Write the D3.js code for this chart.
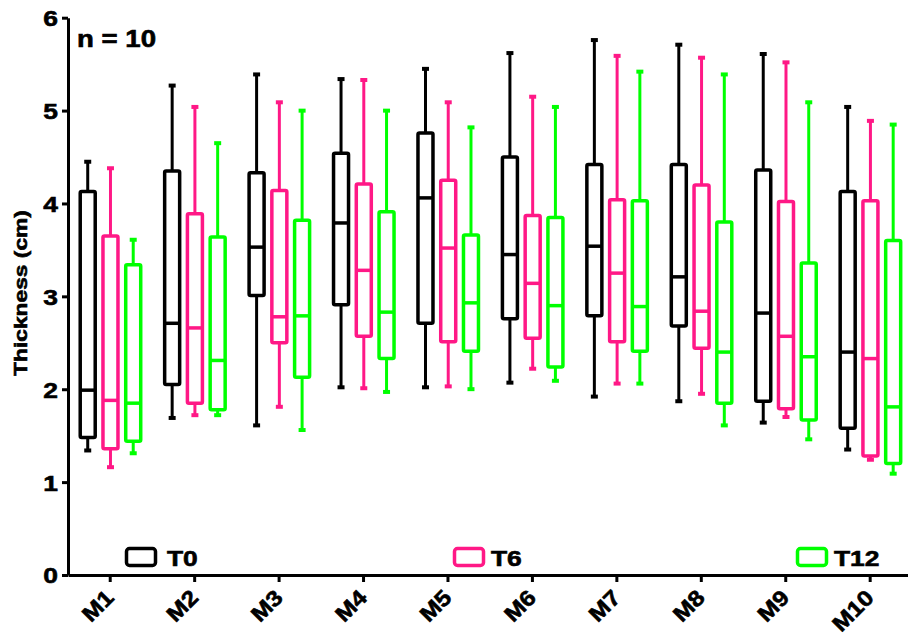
<!DOCTYPE html>
<html lang="en">
<head>
<meta charset="utf-8">
<title>Thickness box plot</title>
<script src="https://cdnjs.cloudflare.com/ajax/libs/d3/7.8.5/d3.min.js"></script>
<style>
  body { margin: 0; background: #fff; }
  svg text { font-family: "Liberation Sans", Arial, sans-serif; font-weight: bold; fill: #000;
             stroke: #000; stroke-width: 0.6px; }
</style>
</head>
<body>
<svg id="chart" width="908" height="637"></svg>
<script>
// muscles on the x axis
const categories = ["M1", "M2", "M3", "M4", "M5", "M6", "M7", "M8", "M9", "M10"];
const series = ["T0", "T6", "T12"];
const colors = ["#000000", "#ff1886", "#00ff00"];
const yTicks = [0, 1, 2, 3, 4, 5, 6];

// each entry: [min, q1, median, q3, max]
const t0 = [
  [1.33, 1.48, 1.99, 4.13, 4.46],
  [1.68, 2.05, 2.71, 4.35, 5.28],
  [1.60, 3.01, 3.53, 4.33, 5.40],
  [2.01, 2.91, 3.79, 4.54, 5.35],
  [2.01, 2.71, 4.06, 4.76, 5.46],
  [2.06, 2.76, 3.45, 4.50, 5.63],
  [1.91, 2.79, 3.54, 4.42, 5.77],
  [1.86, 2.68, 3.21, 4.42, 5.72],
  [1.63, 1.87, 2.82, 4.36, 5.62],
  [1.34, 1.58, 2.40, 4.13, 5.05]
];
const t6 = [
  [1.15, 1.36, 1.88, 3.65, 4.39],
  [1.71, 1.85, 2.66, 3.89, 5.05],
  [1.80, 2.50, 2.78, 4.14, 5.10],
  [2.00, 2.57, 3.28, 4.21, 5.34],
  [2.02, 2.51, 3.52, 4.25, 5.10],
  [2.21, 2.55, 3.14, 3.87, 5.16],
  [2.05, 2.51, 3.25, 4.04, 5.60],
  [1.94, 2.44, 2.84, 4.20, 5.58],
  [1.69, 1.79, 2.57, 4.02, 5.53],
  [1.23, 1.28, 2.33, 4.03, 4.90]
];
const t12 = [
  [1.30, 1.44, 1.85, 3.34, 3.62],
  [1.71, 1.78, 2.31, 3.64, 4.66],
  [1.55, 2.13, 2.79, 3.82, 5.01],
  [1.96, 2.33, 2.83, 3.91, 5.01],
  [1.99, 2.41, 2.93, 3.66, 4.83],
  [2.08, 2.24, 2.90, 3.85, 5.05],
  [2.05, 2.41, 2.89, 4.03, 5.43],
  [1.60, 1.85, 2.40, 3.80, 5.40],
  [1.45, 1.67, 2.35, 3.36, 5.10],
  [1.08, 1.20, 1.81, 3.60, 4.86]
];
const seriesData = [t0, t6, t12];

const svg = d3.select("#chart");
const wide = "scale(1.2,1)"; // the original font is a wide bold face

const x = d3.scaleBand().domain(categories).range([68, 912.4]);
const xs = d3.scalePoint().domain(series).range([-22.5, 23]);
const y = d3.scaleLinear().domain([0, 6]).range([575, 17.7]);
const boxW = 15;

// flatten into one row per box
const boxes = [];
series.forEach((s, si) => {
  seriesData[si].forEach((v, ci) => {
    boxes.push({ cat: categories[ci], s: s, color: colors[si],
      min: v[0], q1: v[1], med: v[2], q3: v[3], max: v[4] });
  });
});

const g = svg.append("g").selectAll("g")
  .data(boxes)
  .enter().append("g")
  .attr("transform", d => `translate(${x(d.cat) + x.bandwidth() / 2 + xs(d.s)},0)`);

// whiskers
g.append("line")
  .attr("x1", 0).attr("x2", 0)
  .attr("y1", d => y(d.q3)).attr("y2", d => y(d.max))
  .attr("stroke", d => d.color).attr("stroke-width", 3);
g.append("line")
  .attr("x1", 0).attr("x2", 0)
  .attr("y1", d => y(d.q1)).attr("y2", d => y(d.min))
  .attr("stroke", d => d.color).attr("stroke-width", 3);
// caps
g.append("line")
  .attr("x1", -3.5).attr("x2", 3.5)
  .attr("y1", d => y(d.max) + 1).attr("y2", d => y(d.max) + 1)
  .attr("stroke", d => d.color).attr("stroke-width", 4);
g.append("line")
  .attr("x1", -3.5).attr("x2", 3.5)
  .attr("y1", d => y(d.min) - 1).attr("y2", d => y(d.min) - 1)
  .attr("stroke", d => d.color).attr("stroke-width", 4);
// box
g.append("rect")
  .attr("x", -boxW / 2).attr("width", boxW)
  .attr("y", d => y(d.q3)).attr("height", d => y(d.q1) - y(d.q3))
  .attr("rx", 1.5)
  .attr("fill", "#fff")
  .attr("stroke", d => d.color).attr("stroke-width", 3.5);
// median
g.append("line")
  .attr("x1", -boxW / 2).attr("x2", boxW / 2)
  .attr("y1", d => y(d.med)).attr("y2", d => y(d.med))
  .attr("stroke", d => d.color).attr("stroke-width", 3.5);

// axes
const yAxis = svg.append("g")
  .attr("transform", "translate(68,0)")
  .call(d3.axisLeft(y).tickValues(yTicks).tickFormat(d3.format("d")).tickSize(6).tickSizeOuter(0));
yAxis.select(".domain").attr("stroke-width", 3);
yAxis.selectAll(".tick line").attr("stroke-width", 3);
yAxis.selectAll(".tick text")
  .style("font-size", "22px")
  .attr("x", 0).attr("dy", "0.36em")
  .attr("transform", "translate(-10,0) " + wide);

const xAxis = svg.append("g")
  .attr("transform", "translate(0,575)")
  .call(d3.axisBottom(x).tickSize(7).tickSizeOuter(0));
xAxis.select(".domain").attr("stroke-width", 3);
xAxis.selectAll(".tick line").attr("stroke-width", 3);
xAxis.selectAll(".tick text")
  .style("font-size", "22px")
  .attr("text-anchor", "end")
  .attr("x", 0).attr("y", 0).attr("dy", 0)
  .attr("transform", "translate(5,24) rotate(-45) scale(1.12,1)");

svg.append("text")
  .attr("transform", "translate(27,293) rotate(-90) " + wide)
  .attr("text-anchor", "middle")
  .style("font-size", "19px")
  .text("Thickness (cm)");

svg.append("text")
  .attr("transform", "translate(77,47) " + wide)
  .style("font-size", "23px")
  .text("n = 10");

// legend
const legendX = [125, 453, 796];
const legend = svg.append("g").selectAll("g")
  .data(series)
  .enter().append("g")
  .attr("transform", (d, i) => `translate(${legendX[i]},547)`);
legend.append("rect")
  .attr("x", 1.5).attr("y", 1.5).attr("width", 29).attr("height", 17)
  .attr("rx", 3)
  .attr("fill", "none")
  .attr("stroke", (d, i) => colors[i]).attr("stroke-width", 3.5);
legend.append("text")
  .attr("transform", (d, i) => `translate(${i === 0 ? 42 : 38},19) ${wide}`)
  .style("font-size", "22px")
  .text(d => d);
</script>
</body>
</html>
